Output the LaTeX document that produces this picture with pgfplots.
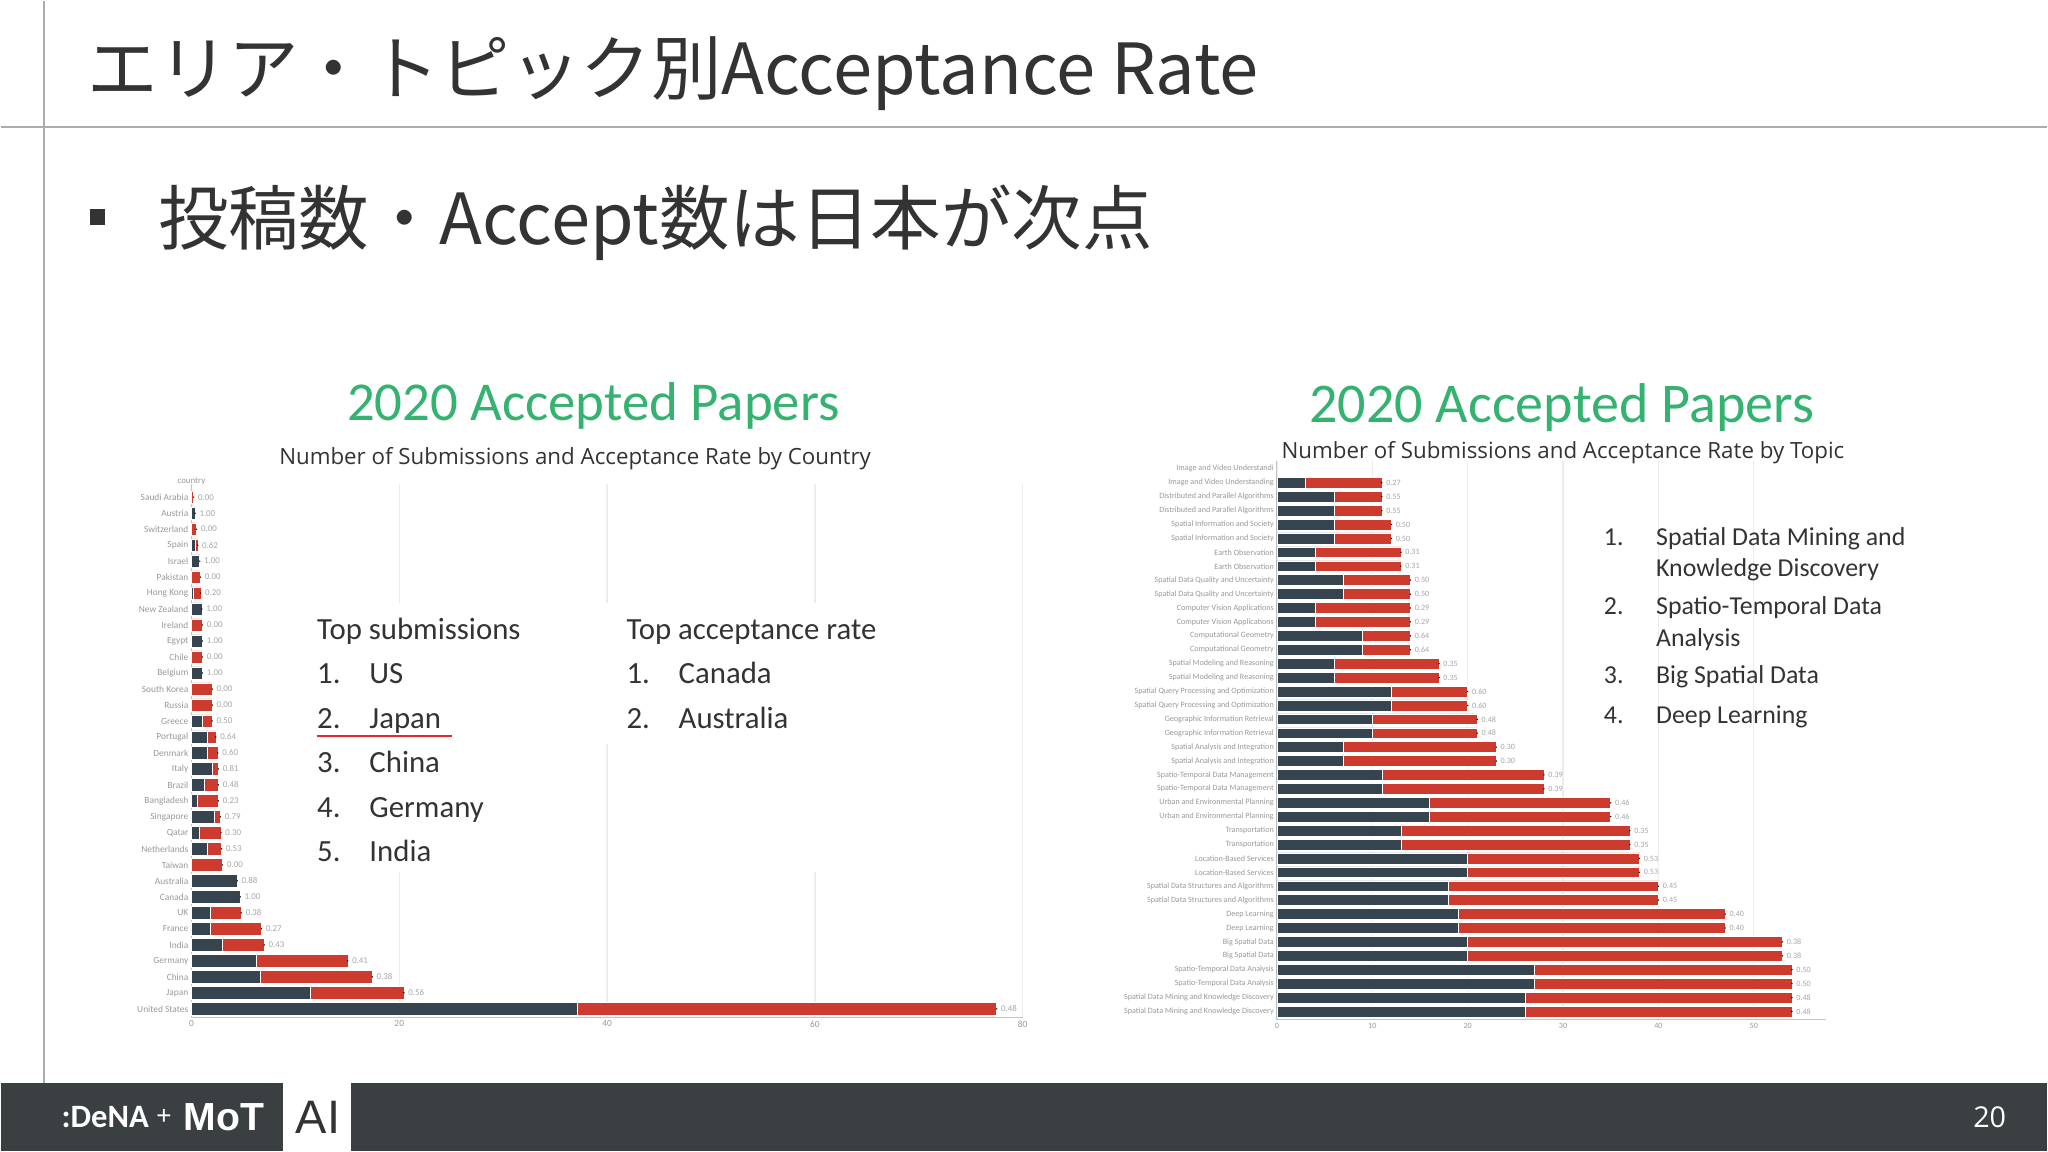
\documentclass[border=0pt]{standalone}
\usepackage{pgfplots}
\pgfplotsset{compat=1.18}
\usepackage{pgfplotstable}
\usepackage{fontspec}
\setmainfont{Carlito}
\newfontfamily\jp{Noto Sans CJK JP}
\newfontfamily\osans{Open Sans}
\newfontfamily\lsans{Liberation Sans}
\definecolor{txt}{HTML}{333333}
\definecolor{footer}{HTML}{3A3F41}
\definecolor{ttlgreen}{HTML}{34B270}
\definecolor{bardark}{HTML}{36444F}
\definecolor{barred}{HTML}{CC3B2E}
\definecolor{ulred}{HTML}{E0282E}

\pgfplotstableread{
y acc rej tot rate
0 37.1 40.4 77.5 0.48
1 11.4 9.05 20.45 0.56
2 6.6 10.8 17.4 0.38
3 6.2 8.85 15.05 0.41
4 3.0 4.0 7.0 0.43
5 1.8 4.95 6.75 0.27
6 1.8 3.0 4.8 0.38
7 4.7 0 4.7 1.00
8 4.4 0 4.4 0.88
9 0 3.0 3.0 0.00
10 1.5 1.4 2.9 0.53
11 0.8 2.05 2.85 0.30
12 2.15 0.65 2.8 0.79
13 0.6 2.0 2.6 0.23
14 1.25 1.35 2.6 0.48
15 2.0 0.6 2.6 0.81
16 1.5 1.05 2.55 0.60
17 1.5 0.85 2.35 0.64
18 1.0 1.0 2.0 0.50
19 0 2.0 2.0 0.00
20 0 2.0 2.0 0.00
21 1.05 0 1.05 1.00
22 0 1.05 1.05 0.00
23 1.05 0 1.05 1.00
24 0 1.05 1.05 0.00
25 1.0 0 1.0 1.00
26 0.2 0.7 0.9 0.20
27 0 0.87 0.87 0.00
28 0.8 0 0.8 1.00
29 0.38 0.23 0.61 0.62
30 0 0.5 0.5 0.00
31 0.35 0 0.35 1.00
32 0 0.22 0.22 0.00
}\countrydata

\pgfplotstableread{
y acc rej tot rate
0 26 28 54 0.48
1 26 28 54 0.48
2 27 27 54 0.50
3 27 27 54 0.50
4 20 33 53 0.38
5 20 33 53 0.38
6 19 28 47 0.40
7 19 28 47 0.40
8 18 22 40 0.45
9 18 22 40 0.45
10 20 18 38 0.53
11 20 18 38 0.53
12 13 24 37 0.35
13 13 24 37 0.35
14 16 19 35 0.46
15 16 19 35 0.46
16 11 17 28 0.39
17 11 17 28 0.39
18 7 16 23 0.30
19 7 16 23 0.30
20 10 11 21 0.48
21 10 11 21 0.48
22 12 8 20 0.60
23 12 8 20 0.60
24 6 11 17 0.35
25 6 11 17 0.35
26 9 5 14 0.64
27 9 5 14 0.64
28 4 10 14 0.29
29 4 10 14 0.29
30 7 7 14 0.50
31 7 7 14 0.50
32 4 9 13 0.31
33 4 9 13 0.31
34 6 6 12 0.50
35 6 6 12 0.50
36 6 5 11 0.55
37 6 5 11 0.55
38 3 8 11 0.27
}\topicdata

\pgfplotsset{
  leftgeom/.style={at={(73pt,51.15pt)}, anchor=south west,
    scale only axis, width=318.5pt, height=204.3pt,
    xmin=0, xmax=80, ymin=-0.55, ymax=32.8, clip=false},
  rightgeom/.style={at={(488.9pt,50.3pt)}, anchor=south west,
    scale only axis, width=210.5pt, height=214.3pt,
    xmin=0, xmax=57.6, ymin=-0.6, ymax=39.6, clip=false},
  barstyle/.style={
    xbar stacked, bar width=0.78,
    axis x line*=bottom, axis y line*=left,
    axis line style={draw=gray!45, line width=0.4pt, -},
    xmajorgrids, grid style={draw=gray!15, line width=0.5pt},
    major tick length=0pt,
    /pgf/number format/assume math mode=true},
}

\begin{document}
\begin{tikzpicture}[x=0.5pt,y=0.5pt]
\fill[white] (0,0) rectangle (1568,882);

% slide frame
\draw[gray!65, line width=0.7pt] (0,785) -- (1568,785);
\draw[gray!65, line width=0.6pt] (33,52) -- (33,881.5);
\fill[footer] (0,0) rectangle (1568,52);
\fill[white] (216,0) rectangle (268,52);
\node[text=txt, font=\lsans\fontsize{18}{20}\selectfont] at (243,26) {AI};
\node[text=white, font=\bfseries\fontsize{12.5}{15}\selectfont] at (80,26) {:DeNA};
\node[text=white, font=\lsans\fontsize{10}{12}\selectfont] at (125,26) {+};
\node[text=white, font=\lsans\bfseries\fontsize{15}{17}\selectfont] at (171,26) {MoT};
\node[text=white, font=\osans\fontsize{11}{13}\selectfont] at (1524,26) {20};

% slide title and bullet
\node[anchor=base west, text=txt, inner sep=0pt, font=\jp\fontsize{27}{32}\selectfont] at (66,810) {エリア・トピック別Acceptance Rate};
\fill[txt] (68,710) rectangle (80,722);
\node[anchor=base west, text=txt, inner sep=0pt, font=\jp\fontsize{27}{32}\selectfont] at (120,695) {投稿数・Accept数は日本が次点};

% chart titles
\node[anchor=base, text=ttlgreen, inner sep=0pt, font=\fontsize{21}{24}\selectfont] at (454,560) {2020 Accepted Papers};
\node[anchor=base, text=txt, inner sep=0pt, font=\osans\fontsize{8.55}{10}\selectfont] at (440,526) {Number of Submissions and Acceptance Rate by Country};
\node[anchor=base, text=ttlgreen, inner sep=0pt, font=\fontsize{21.5}{24}\selectfont] at (1196,558) {2020 Accepted Papers};
\node[anchor=base, text=txt, inner sep=0pt, font=\osans\fontsize{8.55}{10}\selectfont] at (1197,531) {Number of Submissions and Acceptance Rate by Topic};
\node[text=gray!80, font=\fontsize{3.4}{4}\selectfont] at (146,513) {country};

% left chart
\begin{axis}[leftgeom, barstyle,
  ytick={0,...,32},
  yticklabels={United States,Japan,China,Germany,India,France,UK,Canada,Australia,Taiwan,Netherlands,Qatar,Singapore,Bangladesh,Brazil,Italy,Denmark,Portugal,Greece,Russia,South Korea,Belgium,Chile,Egypt,Ireland,New Zealand,Hong Kong,Pakistan,Israel,Spain,Switzerland,Austria,Saudi Arabia},
  xtick={0,20,40,60,80},
  tick label style={font=\fontsize{3.6}{4}\selectfont, text=gray!80, inner sep=1pt},
]
\addplot[fill=bardark, draw=white, line width=0.2pt] table[x=acc,y=y]{\countrydata};
\addplot[fill=barred, draw=white, line width=0.2pt] table[x=rej,y=y]{\countrydata};
\end{axis}
\begin{axis}[leftgeom, hide axis]
\addplot[only marks, mark=*, mark size=0.01pt, mark options={draw=none, fill=none},
  point meta=explicit symbolic,
  nodes near coords={\pgfplotspointmeta},
  nodes near coords style={font=\fontsize{3.4}{4}\selectfont, text=gray!70, anchor=west, inner sep=1.5pt}]
  table[x=tot,y=y,meta=rate]{\countrydata};
\end{axis}

% right chart
\begin{axis}[rightgeom, barstyle,
  ytick={0,...,39},
  yticklabels={Spatial Data Mining and Knowledge Discovery,Spatial Data Mining and Knowledge Discovery,Spatio-Temporal Data Analysis,Spatio-Temporal Data Analysis,Big Spatial Data,Big Spatial Data,Deep Learning,Deep Learning,Spatial Data Structures and Algorithms,Spatial Data Structures and Algorithms,Location-Based Services,Location-Based Services,Transportation,Transportation,Urban and Environmental Planning,Urban and Environmental Planning,Spatio-Temporal Data Management,Spatio-Temporal Data Management,Spatial Analysis and Integration,Spatial Analysis and Integration,Geographic Information Retrieval,Geographic Information Retrieval,Spatial Query Processing and Optimization,Spatial Query Processing and Optimization,Spatial Modeling and Reasoning,Spatial Modeling and Reasoning,Computational Geometry,Computational Geometry,Computer Vision Applications,Computer Vision Applications,Spatial Data Quality and Uncertainty,Spatial Data Quality and Uncertainty,Earth Observation,Earth Observation,Spatial Information and Society,Spatial Information and Society,Distributed and Parallel Algorithms,Distributed and Parallel Algorithms,Image and Video Understanding,Image and Video Understandi},
  xtick={0,10,20,30,40,50},
  tick label style={font=\fontsize{3.1}{3.6}\selectfont, text=gray!80, inner sep=1pt},
]
\addplot[fill=bardark, draw=white, line width=0.2pt] table[x=acc,y=y]{\topicdata};
\addplot[fill=barred, draw=white, line width=0.2pt] table[x=rej,y=y]{\topicdata};
\end{axis}
\begin{axis}[rightgeom, hide axis]
\addplot[only marks, mark=*, mark size=0.01pt, mark options={draw=none, fill=none},
  point meta=explicit symbolic,
  nodes near coords={\pgfplotspointmeta},
  nodes near coords style={font=\fontsize{3.1}{3.6}\selectfont, text=gray!70, anchor=west, inner sep=1.5pt}]
  table[x=tot,y=y,meta=rate]{\topicdata};
\end{axis}

% white text boxes over the left chart
\fill[white] (236,214) rectangle (412,420);
\fill[white] (458,312) rectangle (690,420);
\fill[white] (470,214) rectangle (690,312);

\begin{scope}[every node/.style={anchor=base west, text=txt, inner sep=0pt, font=\fontsize{11.8}{13}\selectfont}]
\node at (242,392) {Top submissions};
\node at (242,358) {1.}; \node at (282,358) {US};
\node at (242,324) {2.}; \node at (282,324) {Japan};
\node at (242,290) {3.}; \node at (282,290) {China};
\node at (242,256) {4.}; \node at (282,256) {Germany};
\node at (242,222) {5.}; \node at (282,222) {India};
\node at (479,392) {Top acceptance rate};
\node at (479,358) {1.}; \node at (519,358) {Canada};
\node at (479,324) {2.}; \node at (519,324) {Australia};
\end{scope}
\draw[ulred, line width=0.7pt] (242,318) -- (346,318);

\begin{scope}[every node/.style={anchor=base west, text=txt, inner sep=0pt, font=\fontsize{9.9}{11}\selectfont}]
\node at (1228,464) {1.}; \node at (1268,464) {Spatial Data Mining and};
\node at (1268,440) {Knowledge Discovery};
\node at (1228,411) {2.}; \node at (1268,411) {Spatio-Temporal Data};
\node at (1268,387) {Analysis};
\node at (1228,358) {3.}; \node at (1268,358) {Big Spatial Data};
\node at (1228,328) {4.}; \node at (1268,328) {Deep Learning};
\end{scope}
\end{tikzpicture}
\end{document}
